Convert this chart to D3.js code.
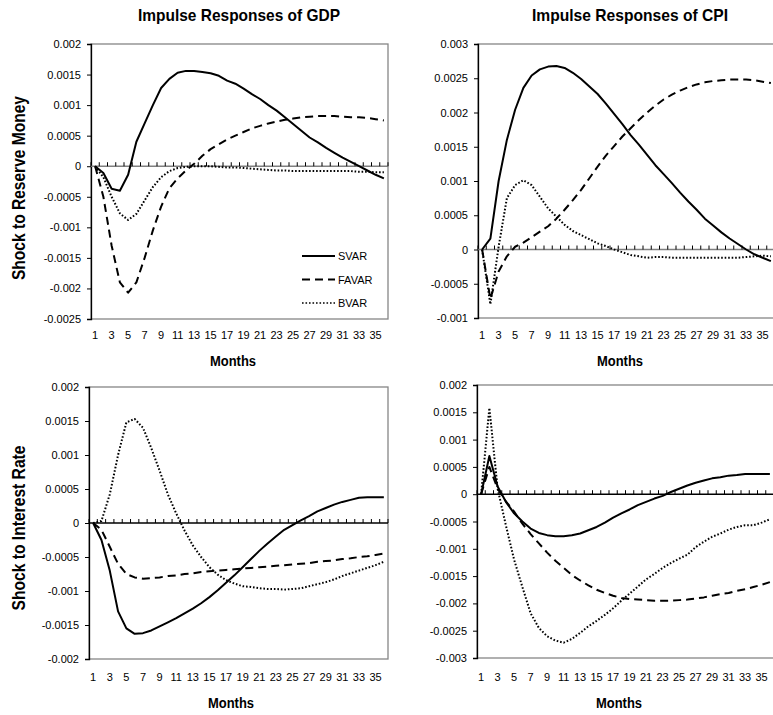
<!DOCTYPE html>
<html>
<head>
<meta charset="utf-8">
<script src="https://cdn.jsdelivr.net/npm/d3@7"></script>
<style>
  body { margin: 0; background: #fff; }
  svg { display: block; }
</style>
</head>
<body>
<svg id="chart" width="773" height="715"></svg>
<script>
// months on the category axis
var months = [1, 2, 3, 4, 5, 6, 7, 8, 9, 10, 11, 12, 13, 14, 15, 16, 17, 18,
  19, 20, 21, 22, 23, 24, 25, 26, 27, 28, 29, 30, 31, 32, 33, 34, 35, 36];
var monthLabels = [1, 3, 5, 7, 9, 11, 13, 15, 17, 19, 21, 23, 25, 27, 29, 31, 33, 35];

var seriesNames = ["SVAR", "FAVAR", "BVAR"];

// shock to reserve money -> GDP
var gdpMoneySVAR = [0, -0.00011, -0.00037, -0.0004, -0.00014, 0.0004, 0.0007, 0.001, 0.00128, 0.00143, 0.00153, 0.00156,
  0.00156, 0.00154, 0.00152, 0.00148, 0.0014, 0.00135, 0.00127, 0.00118, 0.0011, 0.001, 0.00091, 0.0008,
  0.00069, 0.00058, 0.00047, 0.00039, 0.0003, 0.00022, 0.00014, 0.00007, 0, -0.00007, -0.00014, -0.0002];
var gdpMoneyFAVAR = [0, -0.0005, -0.0013, -0.0019, -0.00207, -0.0019, -0.0015, -0.00105, -0.00066, -0.00036, -0.0002, -0.00007,
  0.00004, 0.00017, 0.00028, 0.00036, 0.00044, 0.0005, 0.00056, 0.00062, 0.00066, 0.0007, 0.00073, 0.00076,
  0.00078, 0.0008, 0.00081, 0.00082, 0.00082, 0.00082, 0.00081, 0.0008, 0.0008, 0.00079, 0.00077, 0.00075];
var gdpMoneyBVAR = [0, -0.00018, -0.0005, -0.00077, -0.00088, -0.00078, -0.00056, -0.00034, -0.00018, -0.00008, -0.00003, -0.00001,
  0, 0, 0, -0.00001, -0.00002, -0.00002, -0.00003, -0.00004, -0.00005, -0.00006, -0.00007, -0.00007,
  -0.00008, -0.00008, -0.00008, -0.00008, -0.00008, -0.00008, -0.00008, -0.00008, -0.00009, -0.00009, -0.0001, -0.0001];

// shock to reserve money -> CPI
var cpiMoneySVAR = [0, 0.00016, 0.001, 0.0016, 0.00204, 0.00236, 0.00254, 0.00263, 0.00267, 0.00268, 0.00265, 0.00258,
  0.00249, 0.00238, 0.00227, 0.00213, 0.00198, 0.00183, 0.00167, 0.00153, 0.00138, 0.00123, 0.0011, 0.00097,
  0.00083, 0.0007, 0.00058, 0.00045, 0.00035, 0.00025, 0.00016, 0.00008, 0, -0.00007, -0.00012, -0.00017];
var cpiMoneyFAVAR = [0, -0.00072, -0.00032, -0.0001, 0.00004, 0.0001, 0.00018, 0.00026, 0.00034, 0.00045, 0.00058, 0.00072,
  0.00087, 0.00104, 0.00121, 0.00137, 0.00151, 0.00165, 0.00177, 0.00189, 0.002, 0.0021, 0.00219, 0.00226,
  0.00232, 0.00237, 0.00241, 0.00244, 0.00246, 0.00247, 0.00248, 0.00248, 0.00248, 0.00247, 0.00245, 0.00243];
var cpiMoneyBVAR = [0, -0.0008, 0.00004, 0.00075, 0.00094, 0.00101, 0.00094, 0.00077, 0.0006, 0.00048, 0.00036, 0.00027,
  0.00021, 0.00015, 0.00009, 0.00005, 0, -0.00004, -0.00008, -0.0001, -0.00012, -0.00011, -0.00011, -0.00012,
  -0.00012, -0.00012, -0.00012, -0.00012, -0.00012, -0.00012, -0.00012, -0.00012, -0.00011, -0.0001, -0.00009, -0.0001];

// shock to interest rate -> GDP
var gdpRateSVAR = [0, -0.00025, -0.0007, -0.0013, -0.00155, -0.00163, -0.00162, -0.00158, -0.00152, -0.00146, -0.0014, -0.00133,
  -0.00126, -0.00118, -0.00109, -0.00099, -0.00088, -0.00077, -0.00065, -0.00053, -0.00041, -0.0003, -0.0002, -0.0001,
  -0.00003, 0.00004, 0.0001, 0.00017, 0.00022, 0.00027, 0.00031, 0.00034, 0.00037, 0.00038, 0.00038, 0.00038];
var gdpRateFAVAR = [0, -0.0001, -0.00035, -0.0006, -0.00075, -0.0008, -0.00082, -0.00081, -0.0008, -0.00078, -0.00077, -0.00075,
  -0.00074, -0.00072, -0.00071, -0.0007, -0.00069, -0.00068, -0.00067, -0.00066, -0.00065, -0.00064, -0.00063, -0.00062,
  -0.00061, -0.0006, -0.00059, -0.00057, -0.00056, -0.00055, -0.00053, -0.00052, -0.0005, -0.00049, -0.00047, -0.00045];
var gdpRateBVAR = [0, 0.00003, 0.00042, 0.001, 0.00148, 0.00153, 0.0014, 0.0011, 0.00077, 0.00042, 0.00014, -0.00011,
  -0.00033, -0.0005, -0.00065, -0.00076, -0.00084, -0.00089, -0.00093, -0.00094, -0.00096, -0.00097, -0.00097, -0.00098,
  -0.00097, -0.00096, -0.00093, -0.0009, -0.00087, -0.00083, -0.00078, -0.00074, -0.0007, -0.00066, -0.00062, -0.00057];

// shock to interest rate -> CPI
var cpiRateSVAR = [0, 0.0007, 0.00014, -0.00014, -0.00035, -0.0005, -0.00063, -0.00071, -0.00075, -0.00077, -0.00077, -0.00075,
  -0.00072, -0.00066, -0.0006, -0.00052, -0.00043, -0.00035, -0.00028, -0.0002, -0.00014, -0.00008, -0.00003, 0.00004,
  0.0001, 0.00016, 0.00021, 0.00025, 0.00029, 0.00031, 0.00034, 0.00035, 0.00037, 0.00037, 0.00037, 0.00037];
var cpiRateFAVAR = [0, 0.0005, 0.0001, -0.00013, -0.00032, -0.00054, -0.00073, -0.0009, -0.00107, -0.00122, -0.00135, -0.00148,
  -0.00158, -0.00167, -0.00175, -0.00181, -0.00186, -0.0019, -0.00192, -0.00193, -0.00194, -0.00195, -0.00195, -0.00195,
  -0.00194, -0.00193, -0.00191, -0.00189, -0.00186, -0.00183, -0.00181, -0.00177, -0.00174, -0.0017, -0.00166, -0.00161];
var cpiRateBVAR = [0, 0.00158, 0.0001, -0.00057, -0.0012, -0.0017, -0.00218, -0.00245, -0.0026, -0.00268, -0.00272, -0.00265,
  -0.00254, -0.00242, -0.00232, -0.00221, -0.00209, -0.00195, -0.00182, -0.00169, -0.00156, -0.00146, -0.00135, -0.00126,
  -0.00118, -0.00111, -0.00097, -0.00087, -0.00078, -0.00072, -0.00065, -0.0006, -0.00057, -0.00057, -0.00052, -0.00046];

// y tick values per panel
var gdpMoneyTicks = [0.002, 0.0015, 0.001, 0.0005, 0, -0.0005, -0.001, -0.0015, -0.002, -0.0025];
var cpiMoneyTicks = [0.003, 0.0025, 0.002, 0.0015, 0.001, 0.0005, 0, -0.0005, -0.001];
var gdpRateTicks = [0.002, 0.0015, 0.001, 0.0005, 0, -0.0005, -0.001, -0.0015, -0.002];
var cpiRateTicks = [0.002, 0.0015, 0.001, 0.0005, 0, -0.0005, -0.001, -0.0015, -0.002, -0.0025, -0.003];

var plain = "'Liberation Sans', Arial, sans-serif";

var styles = {
  SVAR: { dash: null },
  FAVAR: { dash: "8,5" },
  BVAR: { dash: "1.6,1.9" }
};

var svg = d3.select("#chart");

function panel(o) {
  var g = svg.append("g");
  var x = d3.scaleBand().domain(months).range([o.left, o.left + o.width]);
  var y = d3.scaleLinear().domain(d3.extent(o.ticks)).range([o.top + o.height, o.top]);
  var half = x.bandwidth() / 2;

  // plot box
  g.append("rect")
    .attr("x", o.left).attr("y", o.top)
    .attr("width", o.width).attr("height", o.height)
    .style("fill", "none").style("stroke", "#868686").style("stroke-width", 1.3);

  // y axis with outward ticks
  var yAxis = d3.axisLeft(y).tickValues(o.ticks).tickSize(4).tickPadding(6)
    .tickFormat(function (d) { return String(d) });
  var ya = g.append("g").attr("transform", "translate(" + o.left + ",0)").call(yAxis);
  ya.select(".domain").style("stroke", "#000").style("stroke-width", 1.3);
  ya.selectAll(".tick line").style("stroke", "#000");
  ya.selectAll("text").style("font", "11px " + plain).style("fill", "#000");

  // zero line with category tick marks pointing up
  var zero = y(0);
  g.append("line")
    .attr("x1", o.left).attr("x2", o.left + o.width)
    .attr("y1", zero).attr("y2", zero)
    .style("stroke", o.zeroColor).style("stroke-width", 1.5);
  var edges = months.map(function (m) { return x(m) }).concat([o.left + o.width]);
  g.selectAll("line.xt").data(edges).enter().append("line")
    .attr("class", "xt")
    .attr("x1", function (d) { return d }).attr("x2", function (d) { return d })
    .attr("y1", zero).attr("y2", zero - 4)
    .style("stroke", "#000").style("stroke-width", 1);

  // month labels
  g.selectAll("text.xl").data(monthLabels).enter().append("text")
    .attr("class", "xl")
    .attr("x", function (m) { return x(m) + half })
    .attr("y", o.labelY)
    .attr("text-anchor", "middle")
    .style("font", "11px " + plain)
    .text(function (m) { return m });

  g.append("text")
    .attr("x", o.left + 142).attr("y", o.monthsY)
    .attr("text-anchor", "middle")
    .attr("textLength", 46).attr("lengthAdjust", "spacingAndGlyphs")
    .style("font", "bold 14px " + plain)
    .text("Months");

  // the three responses
  var line = d3.line()
    .x(function (d, i) { return x(months[i]) + half })
    .y(function (d) { return y(d) });
  o.series.forEach(function (s, i) {
    var st = styles[seriesNames[i]];
    g.append("path").datum(s)
      .attr("d", line)
      .style("fill", "none").style("stroke", "#000").style("stroke-width", 2)
      .style("stroke-dasharray", st.dash)
      .style("stroke-linejoin", "round");
  });
}

panel({ left: 91, top: 44, width: 297, height: 275, ticks: gdpMoneyTicks, zeroColor: "#808080",
  labelY: 339, monthsY: 366, series: [gdpMoneySVAR, gdpMoneyFAVAR, gdpMoneyBVAR] });
panel({ left: 478, top: 44, width: 297, height: 274, ticks: cpiMoneyTicks, zeroColor: "#808080",
  labelY: 339, monthsY: 366, series: [cpiMoneySVAR, cpiMoneyFAVAR, cpiMoneyBVAR] });
panel({ left: 89, top: 387, width: 299, height: 272, ticks: gdpRateTicks, zeroColor: "#000",
  labelY: 681, monthsY: 708, series: [gdpRateSVAR, gdpRateFAVAR, gdpRateBVAR] });
panel({ left: 477, top: 385, width: 297, height: 273, ticks: cpiRateTicks, zeroColor: "#000",
  labelY: 681, monthsY: 708, series: [cpiRateSVAR, cpiRateFAVAR, cpiRateBVAR] });

// column titles, squeezed to mimic the condensed face
svg.append("text").attr("x", 239).attr("y", 21).attr("text-anchor", "middle")
  .attr("textLength", 202).attr("lengthAdjust", "spacingAndGlyphs")
  .style("font", "bold 17px " + plain).text("Impulse Responses of GDP");
svg.append("text").attr("x", 630).attr("y", 21).attr("text-anchor", "middle")
  .attr("textLength", 196).attr("lengthAdjust", "spacingAndGlyphs")
  .style("font", "bold 17px " + plain).text("Impulse Responses of CPI");

// row titles
svg.append("text").attr("transform", "translate(25,188) rotate(-90)").attr("text-anchor", "middle")
  .attr("textLength", 184).attr("lengthAdjust", "spacingAndGlyphs")
  .style("font", "bold 19px " + plain).text("Shock to Reserve Money");
svg.append("text").attr("transform", "translate(25,528) rotate(-90)").attr("text-anchor", "middle")
  .attr("textLength", 165).attr("lengthAdjust", "spacingAndGlyphs")
  .style("font", "bold 19px " + plain).text("Shock to Interest Rate");

// legend, top left panel only
var legend = svg.append("g").attr("transform", "translate(302,256)");
seriesNames.forEach(function (name, i) {
  var row = legend.append("g").attr("transform", "translate(0," + (i * 23.5) + ")");
  row.append("line").attr("x1", 0).attr("x2", 33).attr("y1", 0).attr("y2", 0)
    .style("stroke", "#000").style("stroke-width", name == "BVAR" ? 1.5 : 2)
    .style("stroke-dasharray", styles[name].dash);
  row.append("text").attr("x", 36).attr("y", 4)
    .style("font", "11px " + plain).text(name);
});
</script>
</body>
</html>
